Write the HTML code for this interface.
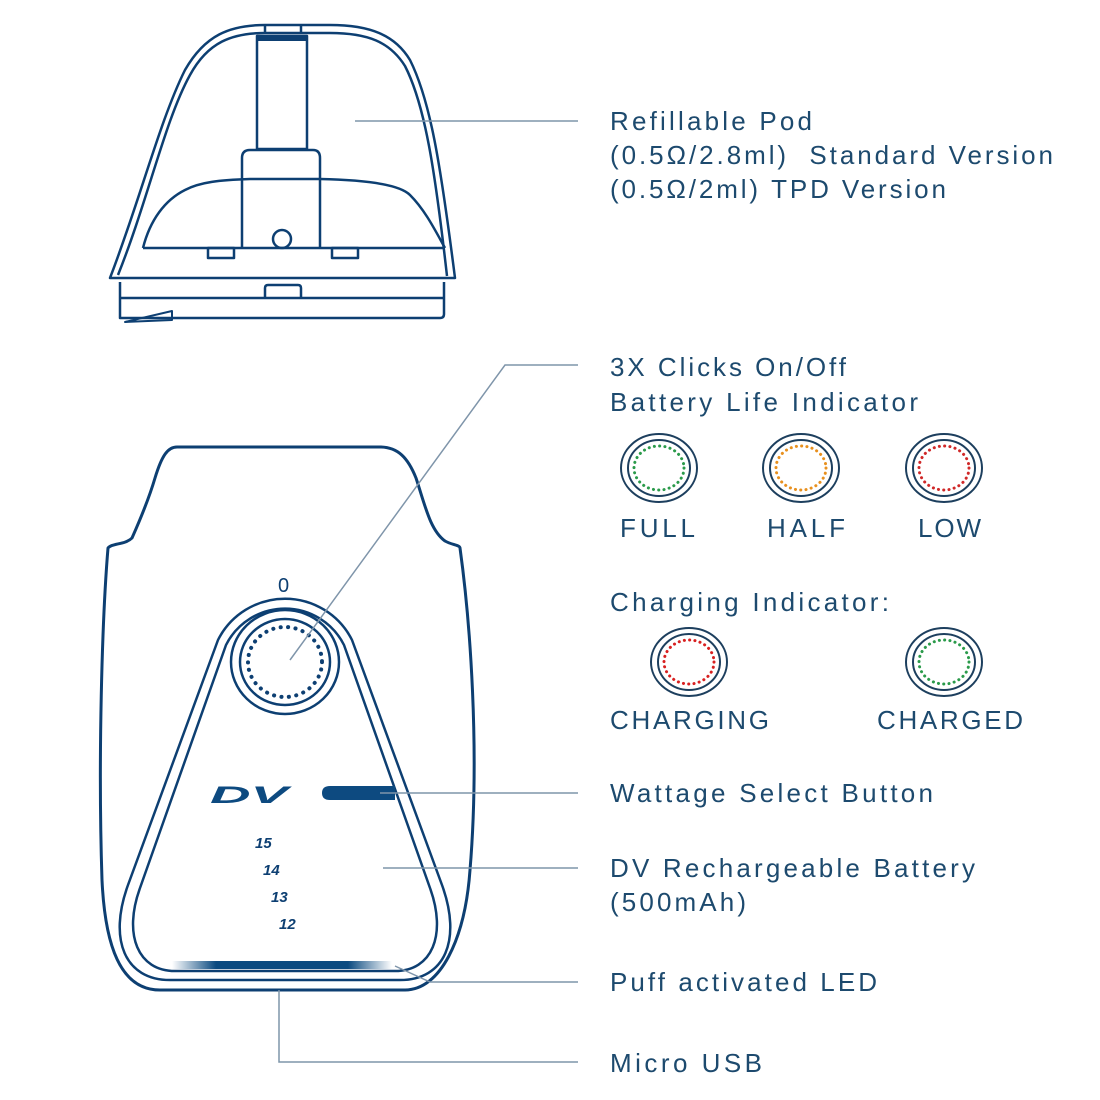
<!DOCTYPE html>
<html><head><meta charset="utf-8"><style>
html,body{margin:0;padding:0;background:#fff;}
svg{display:block;}
text{font-family:"Liberation Sans","DejaVu Sans",sans-serif;fill:#1d4a6e;}
.l{font-size:26px;}
.n{font-size:15px;font-style:italic;font-weight:bold;fill:#0d3f72;}
</style></head><body>
<svg width="1100" height="1100" viewBox="0 0 1100 1100" xmlns="http://www.w3.org/2000/svg">
<defs>
<linearGradient id="led" x1="0" x2="1" y1="0" y2="0">
<stop offset="0" stop-color="#0b4a80" stop-opacity="0"/>
<stop offset="0.2" stop-color="#0b4a80"/>
<stop offset="0.8" stop-color="#0b4a80"/>
<stop offset="1" stop-color="#0b4a80" stop-opacity="0"/>
</linearGradient>
</defs>
<g fill="none" stroke="#0d3f72" stroke-width="2.5" stroke-linejoin="round">
<path d="M110 278 C140 200 160 120 185 70 C205 35 230 25 265 25 L330 25 C370 25 395 35 410 60 C430 100 440 160 455 278 Z"/>
<path d="M118 275 C148 200 165 120 190 75 C208 42 232 33 265 33 L330 33 C368 33 390 42 405 66 C425 105 435 170 447 276"/>
<line x1="265" y1="25" x2="265" y2="33"/><line x1="301" y1="25" x2="301" y2="33"/>
<rect x="257" y="36" width="50" height="113"/>
<line x1="257" y1="39" x2="307" y2="39" stroke-width="4"/>
<path d="M242 248 L242 158 Q242 150 250 150 L313 150 Q320 150 320 158 L320 248"/>
<path d="M143 248 C150 220 165 200 185 190 C200 182 220 180 250 179 L320 179 C370 180 400 185 410 195 C425 210 435 230 445 248"/>
<line x1="143" y1="248" x2="445" y2="248"/>
<circle cx="282" cy="239" r="9"/>
<rect x="208" y="248" width="26" height="10"/><rect x="332" y="248" width="26" height="10"/>
<path d="M120 282 L120 318 L440 318 Q444 318 444 314 L444 282"/>
<line x1="120" y1="298" x2="444" y2="298"/>
<path d="M265 298 L265 288 Q265 285 268 285 L298 285 Q301 285 301 288 L301 298"/>
<path d="M125 322 L172 311 L172 320 Z" stroke-width="2"/>
<path d="M177 447 L380 447 C398 447 408 458 416 478 C425 505 430 530 445 541 C452 545 460 545 460 548 C470 620 480 750 470 870 C465 940 440 990 405 990 L160 990 C120 990 105 945 102 880 C98 760 102 620 108 548 C112 543 125 545 132 538 C140 520 150 495 155 478 C162 455 168 447 177 447 Z" stroke-width="3"/>
<path d="M218 640 A75 75 0 0 1 352 640 L442 885 C462 940 445 980 400 980 L170 980 C125 980 108 940 128 885 Z"/>
<path d="M226 645 A66 66 0 0 1 344 645 L430 888 C447 935 432 971 395 971 L175 971 C138 971 123 935 140 888 Z"/>
<ellipse cx="285" cy="662" rx="54" ry="52"/>
<ellipse cx="285" cy="662" rx="45" ry="43"/>
<ellipse cx="285" cy="662" rx="37" ry="35" stroke-dasharray="0.1 7.4" stroke-linecap="round" stroke-width="4"/>
</g>
<text x="278" y="592" style="font-size:20px;fill:#0d3f72">0</text>
<path d="M330 786 L395 786 L395 800 L330 800 Q322 800 322 793 Q322 786 330 786 Z" fill="#0d4a80"/>
<text x="210" y="803" style="font-size:24px;font-weight:bold;font-style:italic;fill:#0d4a80" textLength="78" lengthAdjust="spacingAndGlyphs">DV</text>
<text class="n" x="255" y="848">15</text><text class="n" x="263" y="875">14</text><text class="n" x="271" y="902">13</text><text class="n" x="279" y="929">12</text>
<rect x="172" y="961" width="220" height="8" fill="url(#led)"/>
<g fill="none" stroke="#7f95aa" stroke-width="1.5">
<line x1="355" y1="121" x2="578" y2="121"/>
<polyline points="290,660 505,365 578,365"/>
<line x1="380" y1="793" x2="578" y2="793"/>
<line x1="383" y1="868" x2="578" y2="868"/>
<polyline points="395,966 430,982 578,982"/>
<polyline points="279,990 279,1062 578,1062"/>
</g>
<g fill="none" stroke="#1d3f5e" stroke-width="2">
<ellipse cx="659" cy="468" rx="38" ry="34"/><ellipse cx="659" cy="468" rx="31" ry="28"/>
<ellipse cx="801" cy="468" rx="38" ry="34"/><ellipse cx="801" cy="468" rx="31" ry="28"/>
<ellipse cx="944" cy="468" rx="38" ry="34"/><ellipse cx="944" cy="468" rx="31" ry="28"/>
<ellipse cx="689" cy="662" rx="38" ry="34"/><ellipse cx="689" cy="662" rx="31" ry="28"/>
<ellipse cx="944" cy="662" rx="38" ry="34"/><ellipse cx="944" cy="662" rx="31" ry="28"/>
</g>
<g fill="none" stroke-width="3" stroke-linecap="round" stroke-dasharray="0.1 5.2">
<ellipse cx="659" cy="468" rx="25" ry="22" stroke="#2a9a4a"/>
<ellipse cx="801" cy="468" rx="25" ry="22" stroke="#e8901e"/>
<ellipse cx="944" cy="468" rx="25" ry="22" stroke="#d02828"/>
<ellipse cx="689" cy="662" rx="25" ry="22" stroke="#d82020"/>
<ellipse cx="944" cy="662" rx="25" ry="22" stroke="#2a9a4a"/>
</g>
<text class="l" x="610" y="130" textLength="202">Refillable Pod</text>
<text class="l" x="610" y="164" textLength="443" xml:space="preserve">(0.5Ω/2.8ml)  Standard Version</text>
<text class="l" x="610" y="198" textLength="336">(0.5Ω/2ml) TPD Version</text>
<text class="l" x="610" y="376" textLength="236">3X Clicks On/Off</text>
<text class="l" x="610" y="411" textLength="308">Battery Life Indicator</text>
<text class="l" x="620" y="537" textLength="75">FULL</text>
<text class="l" x="767" y="537" textLength="78">HALF</text>
<text class="l" x="918" y="537" textLength="63">LOW</text>
<text class="l" x="610" y="611" textLength="279">Charging Indicator:</text>
<text class="l" x="610" y="729" textLength="159">CHARGING</text>
<text class="l" x="877" y="729" textLength="146">CHARGED</text>
<text class="l" x="610" y="802" textLength="323">Wattage Select Button</text>
<text class="l" x="610" y="877" textLength="365">DV Rechargeable Battery</text>
<text class="l" x="610" y="911" textLength="136">(500mAh)</text>
<text class="l" x="610" y="991" textLength="267">Puff activated LED</text>
<text class="l" x="610" y="1072" textLength="152">Micro USB</text>
</svg>
</body></html>
